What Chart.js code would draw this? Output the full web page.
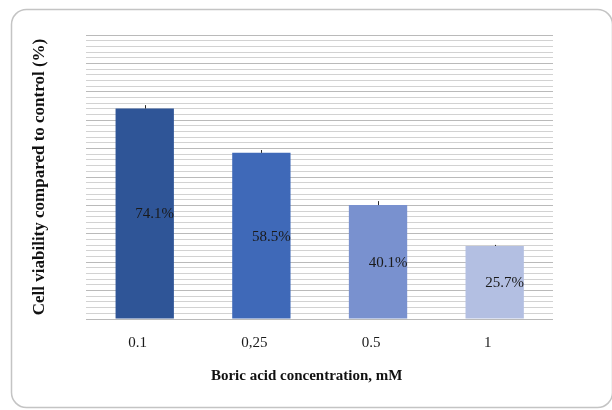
<!DOCTYPE html>
<html>
<head>
<meta charset="utf-8">
<script src="https://cdn.jsdelivr.net/npm/chart.js@4.4.1/dist/chart.umd.min.js"></script>
<style>
  html, body { margin: 0; padding: 0; background: #ffffff; }
  #wrap { width: 612px; height: 410px; position: relative; }
</style>
</head>
<body>
<div id="wrap"><canvas id="c" width="612" height="410"></canvas></div>
<script>
// Boric acid concentrations (mM) and mean cell viability (% of control)
const categories = ['0.1', '0,25', '0.5', '1'];
const viability = [74.1, 58.5, 40.1, 25.7];
const errors = [1.2, 1.0, 1.4, 0.4];
const valueLabels = ['74.1%', '58.5%', '40.1%', '25.7%'];
const barColors = ['#2F5597', '#3F69B8', '#7991CF', '#B3BFE2'];
const xTitle = 'Boric acid concentration, mM';
const yTitle = 'Cell viability compared to control (%)';

const SERIF = '"Liberation Serif", "Times New Roman", serif';

// Rounded outer frame behind the chart
const framePlugin = {
  id: 'frame',
  beforeDraw(chart) {
    const ctx = chart.ctx;
    ctx.save();
    ctx.fillStyle = '#ffffff';
    ctx.fillRect(0, 0, chart.width, chart.height);
    const x = 11.5, y = 9.5, w = 601, h = 398, r = 15;
    ctx.beginPath();
    ctx.moveTo(x + r, y);
    ctx.lineTo(x + w - r, y);
    ctx.arcTo(x + w, y, x + w, y + r, r);
    ctx.lineTo(x + w, y + h - r);
    ctx.arcTo(x + w, y + h, x + w - r, y + h, r);
    ctx.lineTo(x + r, y + h);
    ctx.arcTo(x, y + h, x, y + h - r, r);
    ctx.lineTo(x, y + r);
    ctx.arcTo(x, y, x + r, y, r);
    ctx.closePath();
    ctx.strokeStyle = '#C4C4C4';
    ctx.lineWidth = 1.5;
    ctx.stroke();
    ctx.restore();
  }
};

// Upper error whiskers, in-bar value labels and the horizontal axis title
const barExtras = {
  id: 'barExtras',
  afterDatasetsDraw(chart) {
    const ctx = chart.ctx;
    const yScale = chart.scales.y;
    const meta = chart.getDatasetMeta(0);
    ctx.save();
    meta.data.forEach((bar, i) => {
      const v = viability[i];
      const yTop = yScale.getPixelForValue(v + errors[i]);
      const yVal = yScale.getPixelForValue(v);
      ctx.strokeStyle = '#2a2a2a';
      ctx.lineWidth = 1;
      ctx.beginPath();
      ctx.moveTo(Math.round(bar.x) + 0.5, yVal);
      ctx.lineTo(Math.round(bar.x) + 0.5, yTop);
      ctx.stroke();

      ctx.fillStyle = '#1a1a1a';
      ctx.font = '15px ' + SERIF;
      ctx.textAlign = 'center';
      ctx.textBaseline = 'middle';
      ctx.fillText(valueLabels[i], bar.x + 10, (bar.y + bar.base) / 2 + 1);
    });

    const area = chart.chartArea;
    ctx.fillStyle = '#111111';
    ctx.font = 'bold 15px ' + SERIF;
    ctx.textAlign = 'center';
    ctx.textBaseline = 'middle';
    ctx.fillText(xTitle, (area.left + area.right) / 2 - 13, area.bottom + 57);
    ctx.restore();
  }
};

new Chart(document.getElementById('c'), {
  type: 'bar',
  data: {
    labels: categories,
    datasets: [{
      data: viability,
      backgroundColor: barColors,
      borderWidth: 0,
      barPercentage: 0.5,
      categoryPercentage: 1.0
    }]
  },
  options: {
    responsive: false,
    animation: false,
    devicePixelRatio: 1,
    layout: { padding: { top: 35, right: 59, bottom: 43, left: 29 } },
    plugins: {
      legend: { display: false },
      tooltip: { enabled: false }
    },
    scales: {
      x: {
        grid: { display: false, drawTicks: false },
        border: { display: false },
        ticks: {
          color: '#1a1a1a',
          font: { family: SERIF, size: 15 },
          padding: 15,
          labelOffset: -7
        },
        title: { display: false }
      },
      y: {
        min: 0,
        max: 100,
        ticks: { display: false, stepSize: 2 },
        grid: {
          drawTicks: false,
          color: (c) => (c.tick && c.tick.value % 10 === 0) ? '#BABABA' : '#D2D2D2',
          lineWidth: 1
        },
        border: { display: false },
        title: {
          display: true,
          text: yTitle,
          color: '#111111',
          font: { family: SERIF, size: 17, weight: 'bold' },
          padding: { top: 0, bottom: 37 }
        }
      }
    }
  },
  plugins: [framePlugin, barExtras]
});
</script>
</body>
</html>
